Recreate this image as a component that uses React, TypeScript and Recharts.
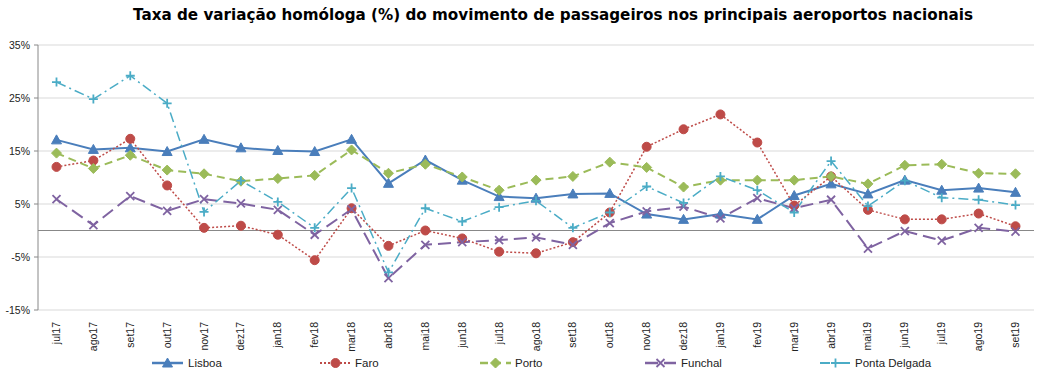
import { LineChart, Line, XAxis, YAxis, CartesianGrid, ReferenceLine } from 'recharts';

const months = [
  'jul17', 'ago17', 'set17', 'out17', 'nov17', 'dez17', 'jan18', 'fev18', 'mar18',
  'abr18', 'mai18', 'jun18', 'jul18', 'ago18', 'set18', 'out18', 'nov18', 'dez18',
  'jan19', 'fev19', 'mar19', 'abr19', 'mai19', 'jun19', 'jul19', 'ago19', 'set19',
];

const lisboa = [17.1, 15.3, 15.6, 14.9, 17.2, 15.6, 15.1, 14.9, 17.2, 8.9, 13.3, 9.5, 6.4, 6.1, 6.9, 7.0, 3.1, 2.1, 3.1, 2.1, 6.6, 8.8, 6.9, 9.5, 7.6, 8.0, 7.2];
const faro = [12.0, 13.2, 17.3, 8.5, 0.5, 0.9, -0.8, -5.6, 4.2, -2.9, 0.0, -1.5, -4.0, -4.3, -2.2, 3.4, 15.8, 19.1, 21.9, 16.6, 4.7, 10.2, 3.9, 2.1, 2.1, 3.2, 0.8];
const porto = [14.6, 11.7, 14.2, 11.4, 10.7, 9.3, 9.8, 10.4, 15.2, 10.8, 12.5, 10.1, 7.6, 9.5, 10.2, 12.9, 11.9, 8.2, 9.5, 9.5, 9.5, 10.2, 8.8, 12.3, 12.5, 10.8, 10.7];
const funchal = [5.9, 1.0, 6.5, 3.7, 5.9, 5.1, 3.9, -0.8, 4.0, -9.0, -2.7, -2.2, -1.8, -1.3, -2.7, 1.4, 3.6, 4.5, 2.3, 6.1, 4.2, 5.8, -3.4, -0.1, -1.9, 0.5, -0.2];
const pontaDelgada = [28.0, 24.8, 29.2, 24.0, 3.5, 9.4, 5.4, 0.5, 8.0, -7.9, 4.2, 1.7, 4.4, 5.6, 0.5, 3.4, 8.3, 5.2, 10.2, 7.6, 3.4, 13.1, 4.6, 9.4, 6.2, 5.8, 4.8];

const yTicks = [-15, -5, 5, 15, 25, 35];

const data = months.map((m, i) => ({
  name: m,
  lisboa: lisboa[i],
  faro: faro[i],
  porto: porto[i],
  funchal: funchal[i],
  pontaDelgada: pontaDelgada[i],
}));

type MarkerKind = 'triangle' | 'circle' | 'diamond' | 'x' | 'plus';

const series: { key: string; label: string; color: string; dash?: string; width: number; marker: MarkerKind }[] = [
  { key: 'lisboa', label: 'Lisboa', color: '#4A7EBB', width: 2, marker: 'triangle' },
  { key: 'faro', label: 'Faro', color: '#BE4B48', dash: '2 2', width: 1.5, marker: 'circle' },
  { key: 'porto', label: 'Porto', color: '#9BBB59', dash: '8 5', width: 2, marker: 'diamond' },
  { key: 'funchal', label: 'Funchal', color: '#7F63A1', dash: '13 6', width: 2, marker: 'x' },
  { key: 'pontaDelgada', label: 'Ponta Delgada', color: '#4BACC6', dash: '10 4 2 4', width: 1.5, marker: 'plus' },
];

function Marker({ kind, cx, cy, color }: { kind: MarkerKind; cx: number; cy: number; color: string }) {
  if (cx == null || cy == null) return null;
  switch (kind) {
    case 'triangle':
      return <path d={`M${cx},${cy - 5} L${cx + 5},${cy + 4} L${cx - 5},${cy + 4} Z`} fill={color} stroke={color} />;
    case 'circle':
      return <circle cx={cx} cy={cy} r={4.5} fill={color} stroke={color} />;
    case 'diamond':
      return <path d={`M${cx},${cy - 5} L${cx + 5},${cy} L${cx},${cy + 5} L${cx - 5},${cy} Z`} fill={color} stroke={color} />;
    case 'x':
      return <path d={`M${cx - 4},${cy - 4} L${cx + 4},${cy + 4} M${cx + 4},${cy - 4} L${cx - 4},${cy + 4}`} stroke={color} strokeWidth={1.8} fill="none" />;
    case 'plus':
      return <path d={`M${cx - 4.5},${cy} L${cx + 4.5},${cy} M${cx},${cy - 4.5} L${cx},${cy + 4.5}`} stroke={color} strokeWidth={1.8} fill="none" />;
  }
  return null;
}

const MonthTick = (props: any) => {
  const { x, y, payload } = props;
  return (
    <text
      x={x + 3.5}
      y={y}
      transform={`rotate(-90, ${x + 3.5}, ${y})`}
      textAnchor="end"
      fontSize={10.5}
      fontFamily="'Liberation Sans Narrow', 'Liberation Sans', sans-serif"
      fill="#222"
    >
      {payload.value}
    </text>
  );
};

const legendPos = [
  { lineX: 152, textX: 188 },
  { lineX: 320, textX: 355 },
  { lineX: 480, textX: 515 },
  { lineX: 645, textX: 681 },
  { lineX: 820, textX: 855 },
];

function ChartLegend() {
  return (
    <svg width={1038} height={24} style={{ position: 'absolute', left: 0, top: 351 }}>
      {series.map((s, i) => {
        const p = legendPos[i];
        return (
          <g key={s.key}>
            <line x1={p.lineX} x2={p.lineX + 31} y1={12} y2={12} stroke={s.color} strokeWidth={s.width + 0.5} strokeDasharray={s.dash} />
            <Marker kind={s.marker} cx={p.lineX + 15.5} cy={12} color={s.color} />
            <text x={p.textX} y={16} fontSize={11.5} fontFamily="'Liberation Sans Narrow', 'Liberation Sans', sans-serif" fill="#222">
              {s.label}
            </text>
          </g>
        );
      })}
    </svg>
  );
}

export default function App() {
  return (
    <div style={{ position: 'absolute', left: 0, top: 0, width: 1038, height: 374, background: '#fff' }}>
      <div
        style={{
          position: 'absolute',
          left: 0,
          top: 6,
          width: 1038,
          textAlign: 'center',
          fontFamily: "'DejaVu Sans', sans-serif",
          fontWeight: 'bold',
          fontSize: 15.2,
          color: '#000',
          paddingLeft: 68,
          boxSizing: 'border-box',
        }}
      >
        Taxa de variação homóloga (%) do movimento de passageiros nos principais aeroportos nacionais
      </div>
      <div style={{ position: 'absolute', left: 0, top: 0 }}>
        <LineChart width={1038} height={374} data={data} margin={{ top: 45, right: 4, left: 0, bottom: 30 }}>
          <CartesianGrid vertical={false} stroke="#d9d9d9" />
          <XAxis
            dataKey="name"
            interval={0}
            height={34}
            padding={{ left: 18.5, right: 18.5 }}
            tick={<MonthTick />}
            tickLine={false}
            axisLine={false}
            tickMargin={6}
          />
          <YAxis
            domain={[-15, 35]}
            ticks={yTicks}
            width={38}
            tickFormatter={(v: number) => `${v}%`}
            tick={{ fontSize: 10.5, fill: '#222', fontFamily: "'Liberation Sans Narrow', 'Liberation Sans', sans-serif" }}
            tickSize={4}
            tickMargin={4}
            stroke="#888"
            axisLine={{ stroke: '#888' }}
            tickLine={{ stroke: '#888' }}
          />
          <ReferenceLine y={0} stroke="#888" strokeWidth={1} />
          {series.map((s) => (
            <Line
              key={s.key}
              dataKey={s.key}
              name={s.label}
              stroke={s.color}
              strokeWidth={s.width}
              strokeDasharray={s.dash}
              isAnimationActive={false}
              dot={(p: any) => <Marker key={`${s.key}-${p.index}`} kind={s.marker} cx={p.cx} cy={p.cy} color={s.color} />}
              activeDot={false}
            />
          ))}
        </LineChart>
      </div>
      <ChartLegend />
    </div>
  );
}
